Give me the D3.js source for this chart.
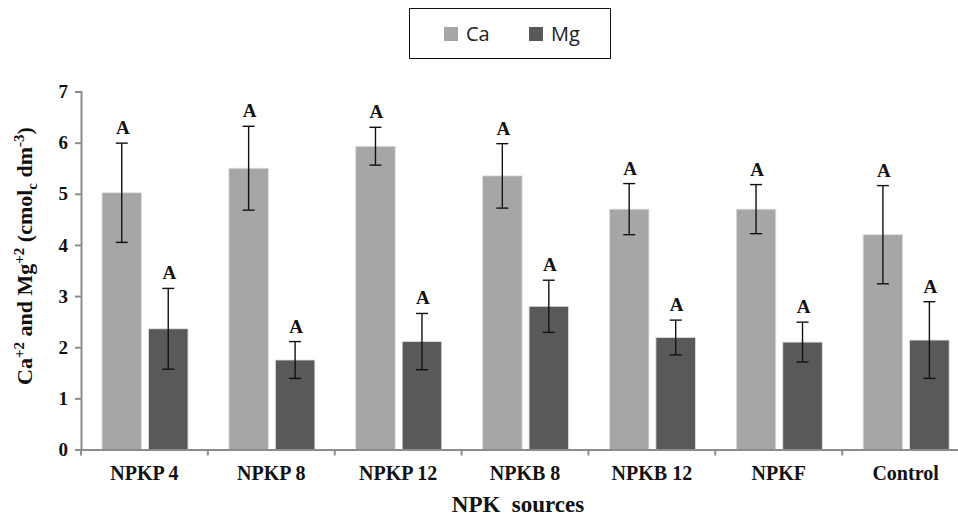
<!DOCTYPE html>
<html>
<head>
<meta charset="utf-8">
<script src="https://cdn.jsdelivr.net/npm/d3@7"></script>
<style>
  body { margin: 0; background: #fff; }
  svg { display: block; }
</style>
</head>
<body>
<div id="chart"></div>
<script>
var categories = ["NPKP 4", "NPKP 8", "NPKP 12", "NPKB 8", "NPKB 12", "NPKF", "Control"];
var series = ["Ca", "Mg"];
var caMean = [5.02, 5.5, 5.93, 5.35, 4.7, 4.7, 4.2];
var caErr  = [0.97, 0.82, 0.37, 0.63, 0.5, 0.48, 0.96];
var mgMean = [2.36, 1.75, 2.11, 2.8, 2.19, 2.1, 2.14];
var mgErr  = [0.79, 0.36, 0.55, 0.51, 0.34, 0.39, 0.75];
var letters = ["A", "A", "A", "A", "A", "A", "A"];
var yTicks = [0, 1, 2, 3, 4, 5, 6, 7];

var colors = {Ca: "#a6a6a6", Mg: "#595959"};
var serif = "'Liberation Serif', 'Times New Roman', serif";

var W = 958, H = 519;
var svg = d3.select("#chart").append("svg")
  .attr("width", W).attr("height", H);

var x0 = d3.scaleBand().domain(categories).range([81, 969]).padding(0);
var x1 = d3.scaleBand().domain(series).range([21, 107]).paddingInner(0.15);
var y = d3.scaleLinear().domain([0, 7]).range([449.5, 91.5]);

var rows = [];
categories.forEach(function(c, i) {
  rows.push({cat: c, key: "Ca", v: caMean[i], e: caErr[i], lab: letters[i]});
  rows.push({cat: c, key: "Mg", v: mgMean[i], e: mgErr[i], lab: letters[i]});
});

// bars
svg.append("g").selectAll("rect")
  .data(rows)
  .enter().append("rect")
  .attr("x", function(d) { return x0(d.cat) + x1(d.key); })
  .attr("y", function(d) { return y(d.v); })
  .attr("width", x1.bandwidth())
  .attr("height", function(d) { return y(0) - y(d.v); })
  .attr("fill", function(d) { return colors[d.key]; })
  .attr("stroke", "#e0e0e0")
  .attr("stroke-width", 0.8);

// error bars
var eb = svg.append("g").attr("stroke", "#111").attr("stroke-width", 1.4);
rows.forEach(function(d) {
  var cx = x0(d.cat) + x1(d.key) + x1.bandwidth() / 2;
  eb.append("line").attr("x1", cx).attr("x2", cx)
    .attr("y1", y(d.v + d.e)).attr("y2", y(d.v - d.e));
  eb.append("line").attr("x1", cx - 6).attr("x2", cx + 6)
    .attr("y1", y(d.v + d.e)).attr("y2", y(d.v + d.e));
  eb.append("line").attr("x1", cx - 6).attr("x2", cx + 6)
    .attr("y1", y(d.v - d.e)).attr("y2", y(d.v - d.e));
});

// letters
svg.append("g").selectAll("text")
  .data(rows)
  .enter().append("text")
  .attr("x", function(d) { return x0(d.cat) + x1(d.key) + x1.bandwidth() / 2 + 1; })
  .attr("y", function(d) { return y(d.v + d.e) - 9; })
  .attr("text-anchor", "middle")
  .attr("font-family", serif)
  .attr("font-weight", "bold")
  .attr("font-size", 19)
  .attr("fill", "#111")
  .text(function(d) { return d.lab; });

// y axis
var yAxis = svg.append("g")
  .attr("transform", "translate(81,0)")
  .call(d3.axisLeft(y).tickValues(yTicks).tickSize(6).tickPadding(7).tickFormat(d3.format("d")));
yAxis.select(".domain").attr("stroke", "#8c8c8c").attr("stroke-width", 2);
yAxis.selectAll(".tick line").attr("stroke", "#8c8c8c").attr("stroke-width", 2);
yAxis.selectAll("text")
  .attr("font-family", serif)
  .attr("font-weight", "bold")
  .attr("font-size", 19)
  .attr("fill", "#111");

// x axis
var xAxis = svg.append("g")
  .attr("transform", "translate(0," + y(0) + ")")
  .call(d3.axisBottom(x0).tickSize(0).tickPadding(16));
xAxis.select(".domain").attr("stroke", "#8c8c8c").attr("stroke-width", 2);
xAxis.selectAll("text")
  .attr("font-family", serif)
  .attr("font-weight", "bold")
  .attr("font-size", 20)
  .attr("fill", "#111");
// separators between groups
xAxis.append("g").selectAll("line")
  .data(categories)
  .enter().append("line")
  .attr("x1", function(d) { return x0(d); })
  .attr("x2", function(d) { return x0(d); })
  .attr("y1", 0).attr("y2", 6)
  .attr("stroke", "#8c8c8c").attr("stroke-width", 2);

// x title
svg.append("text")
  .attr("x", 518).attr("y", 512)
  .attr("text-anchor", "middle")
  .attr("font-family", serif)
  .attr("font-weight", "bold")
  .attr("font-size", 23)
  .attr("fill", "#111")
  .attr("xml:space", "preserve")
  .text("NPK  sources");

// y title
var yt = svg.append("text")
  .attr("transform", "translate(32,256) rotate(-90)")
  .attr("text-anchor", "middle")
  .attr("font-family", serif)
  .attr("font-weight", "bold")
  .attr("font-size", 22)
  .attr("fill", "#111");
var parts = [
  ["Ca", 0], ["+2", 1], [" and Mg", 0], ["+2", 1], [" (cmol", 0], ["c", -1], [" dm", 0], ["-3", 1], [")", 0]
];
var cur = 0;
parts.forEach(function(p) {
  var shift = p[1] === 1 ? -8 : (p[1] === -1 ? 5 : 0);
  yt.append("tspan")
    .attr("dy", shift - cur)
    .attr("font-size", p[1] === 0 ? 22 : 15)
    .text(p[0]);
  cur = shift;
});

// legend
var lg = svg.append("g");
lg.append("rect")
  .attr("x", 409.5).attr("y", 8.5).attr("width", 201).attr("height", 50)
  .attr("fill", "#fff").attr("stroke", "#111").attr("stroke-width", 1);
var legX = d3.scaleOrdinal().domain(series).range([444, 529]);
series.forEach(function(s) {
  lg.append("rect")
    .attr("x", legX(s)).attr("y", 27)
    .attr("width", 14).attr("height", 14)
    .attr("fill", colors[s]);
  lg.append("text")
    .attr("x", legX(s) + 22).attr("y", 41)
    .attr("font-family", "'Open Sans', 'Liberation Sans', sans-serif")
    .attr("font-size", 20)
    .attr("fill", "#222")
    .text(s);
});
</script>
</body>
</html>
